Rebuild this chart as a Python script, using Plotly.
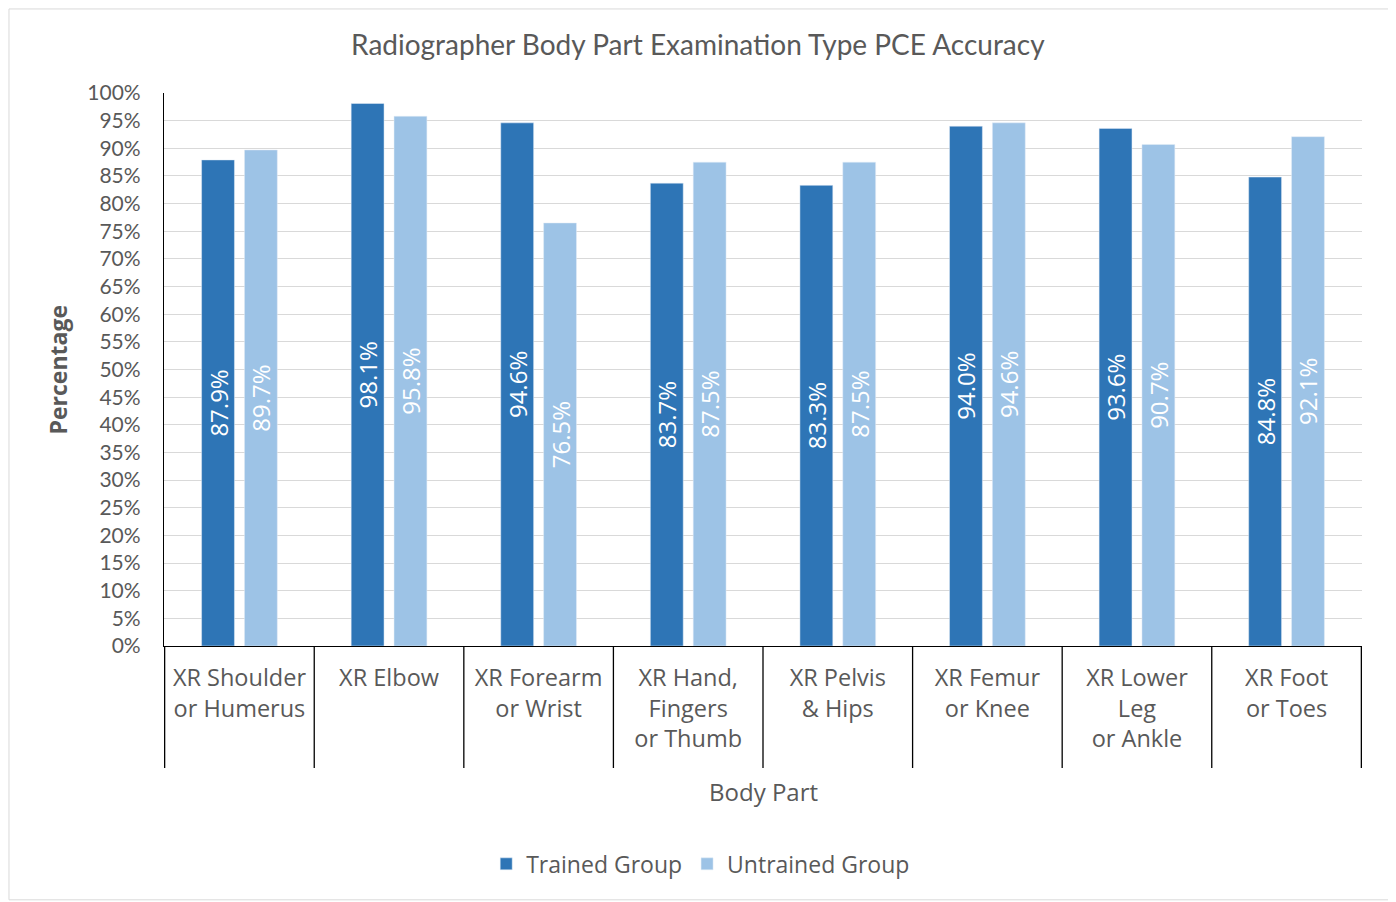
import plotly.graph_objects as go

categories = ["XR Shoulder<br>or Humerus", "XR Elbow", "XR Forearm<br>or Wrist",
              "XR Hand,<br>Fingers<br>or Thumb", "XR Pelvis<br>& Hips", "XR Femur<br>or Knee",
              "XR Lower<br>Leg<br>or Ankle", "XR Foot<br>or Toes"]
trained = [87.9, 98.1, 94.6, 83.7, 83.3, 94.0, 93.6, 84.8]
untrained = [89.7, 95.8, 76.5, 87.5, 87.5, 94.6, 90.7, 92.1]
series_names = ["Trained Group", "Untrained Group"]

GREY = "#595959"
SANS = "Open Sans, Noto Sans, sans-serif"
label_font = dict(family=SANS, size=24, color="white")

fig = go.Figure()
for name, vals, col in [(series_names[0], trained, "#2E75B6"), (series_names[1], untrained, "#9DC3E6")]:
    fig.add_trace(go.Bar(
        name=name, x=categories, y=vals, marker_color=col,
        text=[f"{v:.1f}%" for v in vals], textposition="inside", textangle=-90,
        insidetextanchor="middle", textfont=label_font, cliponaxis=False,
        constraintext="none",
    ))

# separator lines between categories below the axis
n = len(categories)
for i in range(n + 1):
    fig.add_shape(type="line", xref="x", yref="paper", x0=i - 0.5, x1=i - 0.5,
                  y0=0, y1=-0.2206, line=dict(color="black", width=1.3))
# outer chart border
fig.add_shape(type="rect", xref="paper", yref="paper", x0=-0.1294, x1=1.0234,
              y0=-0.459, y1=1.152, line=dict(color="#D9D9D9", width=1))

# axis titles
fig.add_annotation(text="Body Part", xref="paper", yref="paper", x=0.5, y=-0.264,
                   showarrow=False, xanchor="center", yanchor="middle",
                   font=dict(family=SANS, size=24, color=GREY))
fig.add_annotation(text="<b>Percentage</b>", xref="paper", yref="paper", x=-0.0885, y=0.5,
                   showarrow=False, xanchor="center", yanchor="middle", textangle=-90,
                   font=dict(family=SANS, size=23, color=GREY))

fig.update_layout(
    width=1388, height=894,
    margin=dict(l=156, r=34, t=85, b=256, autoexpand=False),
    plot_bgcolor="white", paper_bgcolor="white",
    barmode="group", bargap=0.427, bargroupgap=0.233,
    uniformtext=dict(mode=False),
    title=dict(text="Radiographer Body Part Examination Type PCE Accuracy",
               x=0.497, xanchor="center", y=(894 - 37) / 894, yanchor="middle",
               font=dict(family="Lato, sans-serif", size=28, color=GREY)),
    legend=dict(orientation="h", x=0.448, xanchor="center", y=-0.394, yanchor="middle",
                font=dict(family=SANS, size=23, color=GREY),
                itemwidth=30, traceorder="normal"),
)
fig.update_xaxes(
    type="category", showline=True, linecolor="black", linewidth=1.3,
    ticks="outside", ticklen=11, tickcolor="rgba(0,0,0,0)",
    tickfont=dict(family=SANS, size=23.5, color=GREY),
    tickangle=0,
)
fig.update_yaxes(
    range=[0, 100], dtick=5, ticksuffix="%", showgrid=True, gridcolor="#D9D9D9",
    showline=True, linecolor="black", linewidth=1.3, zeroline=False,
    ticks="outside", ticklen=18, tickcolor="rgba(0,0,0,0)",
    tickfont=dict(family="Lato, sans-serif", size=21, color=GREY),
)

fig.write_html("out.html")
